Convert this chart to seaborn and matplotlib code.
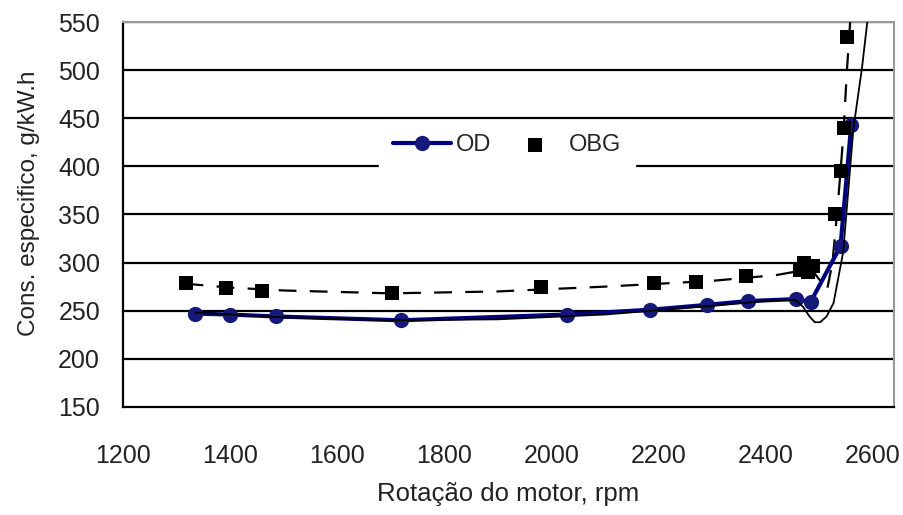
import pandas as pd
import seaborn as sns
import matplotlib.pyplot as plt

# OD series (rpm, g/kW.h)
od_rpm = [1334, 1399, 1485, 1719, 2030, 2185, 2290, 2367, 2456, 2484, 2540, 2560]
od_cons = [247, 246, 244, 240, 246, 251, 256, 260, 262, 259, 317, 443]

# OD trend line
od_trend_rpm = [1334, 1400, 1500, 1700, 1900, 2100, 2300, 2420, 2456, 2470, 2482, 2492, 2502, 2514, 2527, 2545, 2564, 2580, 2590]
od_trend_cons = [248, 246, 243, 240, 241, 246, 255, 261, 261, 254, 244, 238, 238, 244, 258, 311, 439, 502, 550]

# OBG series
obg_rpm = [1317, 1393, 1459, 1702, 1981, 2192, 2270, 2363, 2465, 2472, 2480, 2488, 2530, 2540, 2546, 2553]
obg_cons = [279, 274, 270, 268, 275, 279, 280, 286, 292, 300, 290, 296, 350, 395, 440, 535]

# OBG trend line (dashed)
obg_trend_rpm = [1317, 1400, 1500, 1700, 1900, 2100, 2300, 2420, 2470, 2490, 2505, 2515, 2525, 2535, 2545, 2552, 2558]
obg_trend_cons = [278, 274, 271, 268, 270, 275, 281, 287, 292, 290, 279, 272, 300, 360, 430, 500, 550]

x_ticks = [1200, 1400, 1600, 1800, 2000, 2200, 2400, 2600]
y_ticks = [150, 200, 250, 300, 350, 400, 450, 500, 550]

sns.set_style('white')
plt.rcParams['font.family'] = ['Liberation Sans', 'DejaVu Sans']

fig = plt.figure(figsize=(9.04, 5.15), dpi=100)
ax = fig.add_axes([0.136, 0.21, 0.853, 0.747])

for y in y_ticks[1:]:
    ax.axhline(y, color='black', lw=1.6, zorder=1)

df_od = pd.DataFrame({'rpm': od_rpm, 'cons': od_cons})
df_od_t = pd.DataFrame({'rpm': od_trend_rpm, 'cons': od_trend_cons})
df_obg = pd.DataFrame({'rpm': obg_rpm, 'cons': obg_cons})
df_obg_t = pd.DataFrame({'rpm': obg_trend_rpm, 'cons': obg_trend_cons})

sns.lineplot(data=df_obg_t, x='rpm', y='cons', color='black', lw=1.6, ax=ax,
             linestyle=(0, (8, 6)), sort=False, zorder=3)
sns.lineplot(data=df_od, x='rpm', y='cons', color='#000080', lw=3, ax=ax,
             marker='o', markersize=11, markeredgewidth=0, markerfacecolor='#14197a',
             sort=False, zorder=4, label='OD')
sns.lineplot(data=df_od_t, x='rpm', y='cons', color='black', lw=1.3, ax=ax,
             sort=False, zorder=5)
sns.scatterplot(data=df_obg, x='rpm', y='cons', color='black', marker='s', s=110,
                linewidth=0, ax=ax, zorder=6, label='OBG')

ax.set_xlim(1200, 2640)
ax.set_ylim(150, 550)
ax.set_xticks(x_ticks)
ax.set_yticks(y_ticks)
ax.tick_params(axis='both', labelsize=18, direction='inout', length=9, width=1.3,
               color='black', labelcolor='#222222')
ax.tick_params(axis='x', pad=22)
ax.tick_params(axis='y', pad=12)
ax.set_xlabel('Rotação do motor, rpm', fontsize=18.5, labelpad=10, color='#222222')
ax.set_ylabel('Cons. especifico, g/kW.h', fontsize=17.5, labelpad=9, color='#222222')
ax.yaxis.set_label_coords(-0.108, 0.53)

for side in ['left', 'bottom']:
    ax.spines[side].set_color('black')
    ax.spines[side].set_linewidth(1.6)
for side in ['top', 'right']:
    ax.spines[side].set_color('#999999')
    ax.spines[side].set_linewidth(1.5)

leg = ax.legend(loc='center', bbox_to_anchor=(0.498, 0.68), ncol=2, frameon=True,
                fontsize=17, handlelength=2.45, columnspacing=0.65, handletextpad=0.2,
                borderpad=0.6, borderaxespad=0, fancybox=False)
leg.get_frame().set_edgecolor('white')
leg.get_frame().set_facecolor('white')
leg.get_frame().set_alpha(1)
leg.set_zorder(10)

plt.savefig('out.png', dpi=100)
